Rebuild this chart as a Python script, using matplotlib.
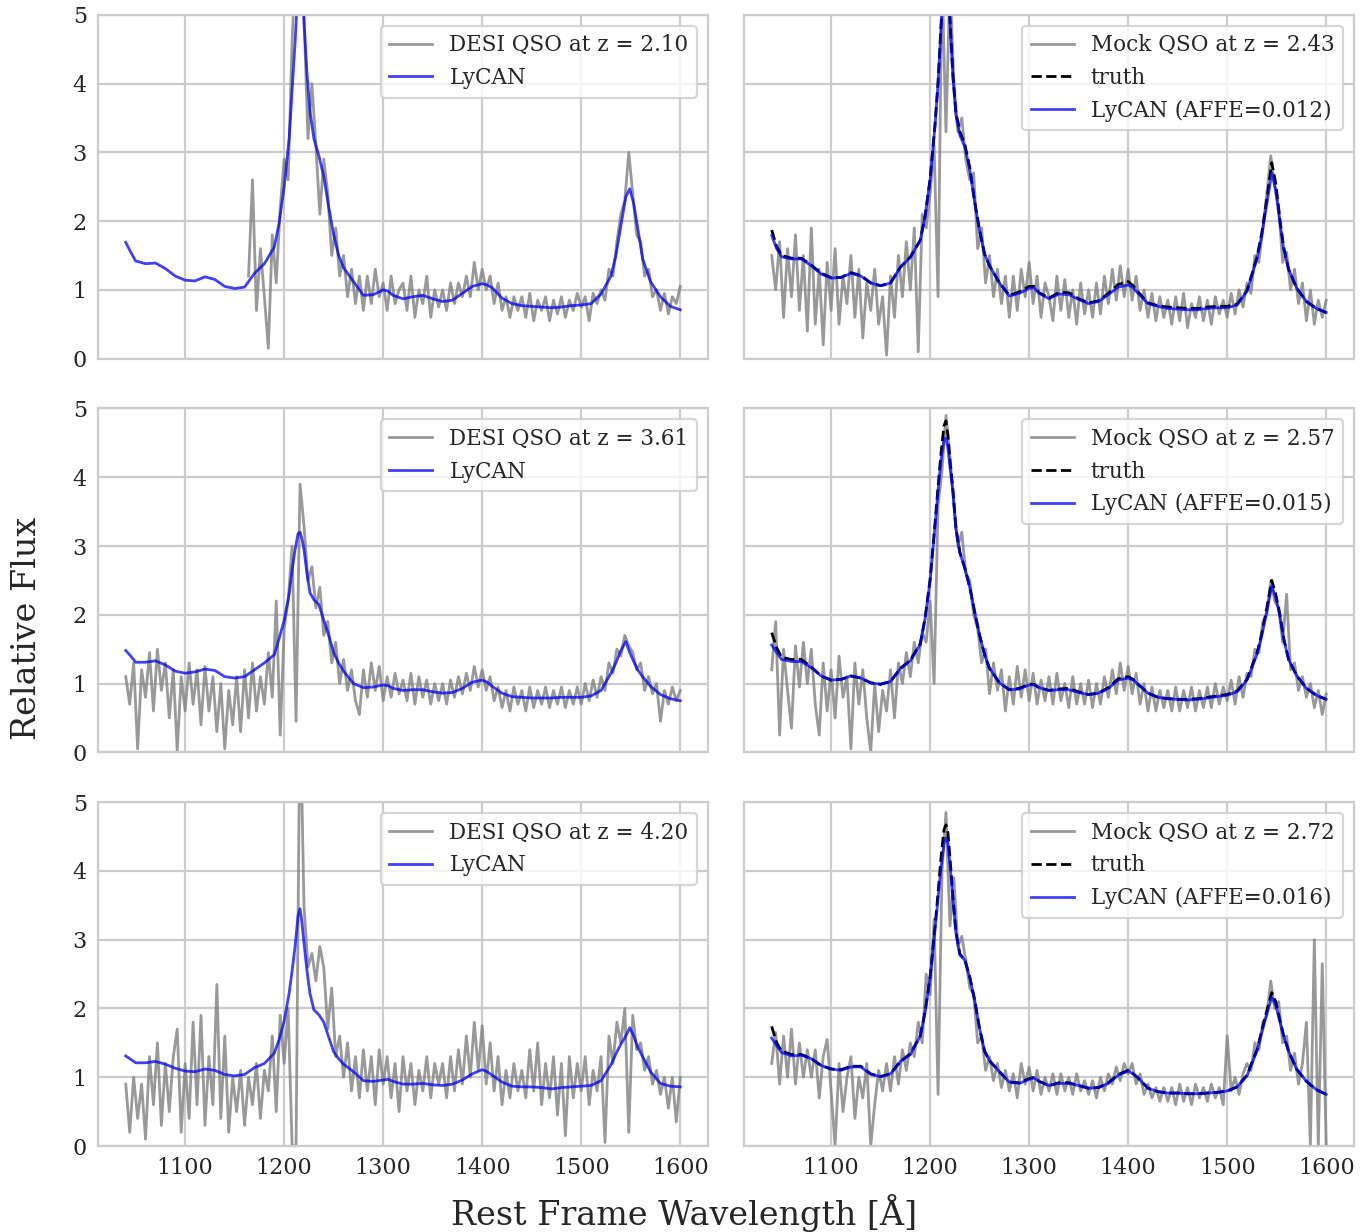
import numpy as np
import matplotlib.pyplot as plt

plt.rcParams['font.family'] = ['DejaVu Serif']
plt.rcParams['axes.edgecolor'] = '0.8'
plt.rcParams['axes.linewidth'] = 1.6
plt.rcParams['grid.color'] = '0.8'
plt.rcParams['grid.linewidth'] = 1.6

# wavelength grid of the smooth curves (rest frame, Angstrom)
SMOOTH_WAVE = [1040, 1045, 1050, 1060, 1070, 1080, 1090, 1100, 1110, 1120,
               1130, 1140, 1150, 1160, 1170, 1180, 1190, 1195, 1200, 1205,
               1208, 1211, 1214, 1216, 1218, 1220, 1223, 1226, 1230, 1235,
               1240, 1245, 1250, 1255, 1260, 1270, 1280, 1290, 1300, 1305,
               1310, 1320, 1330, 1340, 1350, 1360, 1370, 1380, 1390, 1400,
               1405, 1410, 1420, 1430, 1440, 1450, 1460, 1470, 1480, 1490,
               1500, 1510, 1520, 1530, 1535, 1540, 1545, 1549, 1553, 1557,
               1562, 1570, 1580, 1590, 1600]

# wavelength grids of the observed spectra
WAVE_DESI_210 = np.arange(1164, 1601, 4)
WAVE_FULL = np.arange(1040, 1601, 4)

# ---- DESI QSO z=2.10
flux_desi_210 = [
    1.2, 2.6, 0.7, 1.6, 0.9, 0.15, 1.8, 1.1, 2.2,
    2.9, 2.6, 4.6, 6.0, 5.9, 5.0, 3.2, 4.0, 3.1, 2.1,
    2.9, 2.4, 1.5, 1.9, 1.2, 1.5, 0.9, 1.3, 0.8, 1.2,
    0.7, 1.2, 0.8, 1.3, 0.9, 1.1, 0.7, 1.2, 0.8, 1.0,
    1.1, 0.7, 1.2, 0.6, 1.0, 0.8, 1.2, 0.6, 1.0, 0.75,
    1.0, 0.7, 1.1, 0.8, 1.1, 0.9, 1.2, 0.9, 1.4, 1.0,
    1.3, 1.0, 1.2, 0.8, 1.1, 0.7, 0.9, 0.6, 0.9, 0.7,
    0.9, 0.6, 0.95, 0.55, 0.85, 0.7, 0.9, 0.55, 0.85, 0.65,
    0.9, 0.6, 0.85, 0.7, 0.95, 0.75, 0.9, 0.55, 0.95, 0.8,
    1.0, 0.85, 1.3, 1.2, 1.7, 2.1, 2.3, 3.0, 2.4, 1.8,
    1.7, 1.2, 1.3, 0.9, 1.0, 0.7, 0.95, 0.65, 0.9, 0.8,
    1.05]
lycan_desi_210 = [
    1.69, 1.55, 1.42, 1.38, 1.39, 1.31, 1.20, 1.14, 1.13, 1.19,
    1.15, 1.05, 1.02, 1.04, 1.24, 1.38, 1.62, 1.98, 2.50, 3.20,
    3.90, 4.60, 5.40, 5.70, 5.50, 4.90, 4.15, 3.60, 3.20, 2.95,
    2.65, 2.20, 1.80, 1.50, 1.32, 1.12, 0.92, 0.93, 1.00, 0.98,
    0.92, 0.87, 0.90, 0.92, 0.87, 0.83, 0.85, 0.95, 1.05, 1.09,
    1.07, 1.03, 0.88, 0.80, 0.77, 0.76, 0.75, 0.74, 0.75, 0.77,
    0.78, 0.80, 0.94, 1.20, 1.50, 1.93, 2.35, 2.47, 2.25, 1.90,
    1.45, 1.12, 0.90, 0.76, 0.71]

# ---- Mock QSO z=2.43
flux_mock_243 = [
    1.5, 1.0, 1.7, 0.6, 1.6, 0.9, 1.8, 0.7, 1.5, 0.4,
    1.9, 0.5, 1.3, 0.2, 1.4, 0.7, 1.6, 0.5, 1.2, 0.8,
    1.5, 0.6, 1.3, 0.3, 1.1, 0.7, 1.3, 0.5, 0.9, 0.05,
    1.2, 0.6, 1.5, 0.9, 1.7, 1.0, 1.9, 0.1, 2.1, 1.9,
    2.4, 3.1, 0.9, 5.6, 3.3, 5.5, 4.0, 3.3, 3.5, 2.9,
    2.6, 2.7, 1.6, 1.9, 1.1, 1.5, 0.9, 1.3, 0.8, 1.2,
    0.6, 1.2, 0.7, 1.3, 0.9, 1.4, 0.8, 1.2, 0.6, 1.1,
    0.9, 0.55, 1.2, 0.7, 1.15, 0.6, 1.0, 0.5, 1.1, 0.65,
    1.0, 0.6, 1.1, 0.65, 1.2, 0.8, 1.3, 0.85, 1.35, 0.9,
    1.3, 0.85, 1.2, 0.7, 1.0, 0.6, 0.95, 0.55, 0.9, 0.6,
    0.85, 0.5, 0.9, 0.55, 0.95, 0.45, 0.8, 0.6, 0.9, 0.55,
    0.85, 0.5, 0.9, 0.65, 0.85, 0.6, 0.95, 0.65, 1.0, 0.75,
    1.1, 0.95, 1.5, 1.4, 1.9, 2.4, 2.95, 2.5, 2.2, 1.4,
    1.55, 1.0, 1.3, 0.8, 1.1, 0.55, 1.0, 0.5, 0.85, 0.6,
    0.85]
truth_mock_243 = [
    1.87, 1.63, 1.50, 1.46, 1.46, 1.36, 1.24, 1.18, 1.18, 1.25,
    1.21, 1.10, 1.06, 1.10, 1.33, 1.48, 1.72, 2.08, 2.62, 3.42,
    4.02, 4.85, 5.65, 5.95, 5.65, 4.95, 4.12, 3.58, 3.30, 3.12,
    2.78, 2.28, 1.86, 1.52, 1.35, 1.10, 0.92, 0.97, 1.05, 1.05,
    0.96, 0.88, 0.96, 0.96, 0.87, 0.81, 0.84, 0.95, 1.08, 1.12,
    1.06, 0.97, 0.81, 0.77, 0.75, 0.74, 0.73, 0.73, 0.75, 0.76,
    0.76, 0.79, 0.99, 1.47, 1.83, 2.32, 2.85, 2.55, 2.05, 1.62,
    1.30, 1.03, 0.83, 0.73, 0.67]
lycan_mock_243 = [
    1.79, 1.60, 1.48, 1.45, 1.45, 1.35, 1.23, 1.17, 1.18, 1.24,
    1.20, 1.10, 1.06, 1.10, 1.33, 1.47, 1.72, 2.08, 2.60, 3.40,
    4.00, 4.80, 5.60, 5.90, 5.60, 4.90, 4.10, 3.55, 3.25, 3.08,
    2.75, 2.27, 1.85, 1.52, 1.35, 1.10, 0.91, 0.95, 1.02, 1.03,
    0.95, 0.87, 0.94, 0.93, 0.86, 0.80, 0.83, 0.93, 1.04, 1.07,
    1.03, 0.95, 0.80, 0.76, 0.73, 0.72, 0.71, 0.71, 0.73, 0.74,
    0.74, 0.78, 0.98, 1.45, 1.80, 2.25, 2.70, 2.45, 2.00, 1.60,
    1.30, 1.03, 0.83, 0.73, 0.67]

# ---- DESI QSO z=3.61
flux_desi_361 = [
    1.1, 0.7, 1.3, 0.05, 1.2, 0.8, 1.45, 0.6, 1.5, 0.9,
    1.3, 0.5, 1.2, 0.02, 1.1, 0.6, 1.3, 0.7, 1.2, 0.4,
    1.25, 0.6, 1.1, 0.3, 1.0, 0.05, 0.9, 0.4, 1.1, 0.3,
    1.2, 0.5, 1.3, 0.6, 1.1, 0.7, 1.45, 0.8, 2.2, 0.25,
    1.8, 2.2, 3.0, 0.45, 3.9, 3.3, 2.5, 2.7, 2.1, 2.4,
    1.7, 1.9, 1.3, 1.6, 1.0, 1.35, 0.9, 1.2, 0.75, 0.55,
    1.2, 0.8, 1.3, 0.9, 1.25, 0.75, 1.1, 0.8, 1.15, 0.85,
    1.05, 0.75, 1.15, 0.7, 1.1, 0.8, 1.05, 0.7, 1.0, 0.75,
    1.0, 0.7, 1.05, 0.8, 1.1, 0.85, 1.15, 0.9, 1.25, 0.95,
    1.2, 0.9, 1.1, 0.75, 0.95, 0.65, 0.9, 0.6, 0.95, 0.7,
    0.9, 0.6, 0.95, 0.65, 0.9, 0.7, 0.95, 0.65, 0.9, 0.7,
    0.95, 0.65, 0.9, 0.7, 0.95, 0.7, 1.0, 0.75, 1.05, 0.8,
    1.1, 0.9, 1.3, 1.15, 1.5, 1.4, 1.7, 1.55, 1.45, 1.2,
    1.3, 0.9, 1.1, 0.85, 1.0, 0.45, 0.9, 0.7, 0.95, 0.75,
    0.9]
lycan_desi_361 = [
    1.48, 1.40, 1.31, 1.31, 1.33, 1.27, 1.18, 1.15, 1.17, 1.21,
    1.19, 1.10, 1.08, 1.10, 1.20, 1.30, 1.42, 1.66, 1.92, 2.30,
    2.65, 2.95, 3.18, 3.20, 3.10, 2.95, 2.60, 2.32, 2.22, 2.15,
    1.92, 1.70, 1.45, 1.30, 1.18, 1.00, 0.94, 0.95, 0.98, 0.97,
    0.93, 0.90, 0.91, 0.91, 0.88, 0.86, 0.87, 0.93, 1.02, 1.05,
    1.02, 0.96, 0.86, 0.81, 0.80, 0.79, 0.79, 0.79, 0.80, 0.80,
    0.80, 0.82, 0.90, 1.15, 1.30, 1.48, 1.61, 1.45, 1.32, 1.20,
    1.10, 0.96, 0.84, 0.78, 0.75]

# ---- Mock QSO z=2.57
flux_mock_257 = [
    1.2, 1.9, 0.25, 1.5, 0.9, 0.35, 1.55, 0.95, 1.6, 1.0,
    1.5, 0.7, 0.25, 1.3, 0.6, 1.2, 0.5, 1.4, 0.8, 1.1,
    0.05, 1.3, 0.7, 1.2, 0.5, 0.0, 1.0, 0.3, 0.9, 0.6,
    1.2, 0.5, 1.3, 1.0, 1.45, 1.1, 1.6, 1.3, 1.75, 1.6,
    2.2, 1.0, 3.6, 4.1, 4.9, 4.3, 3.6, 3.0, 3.2, 2.6,
    2.5, 2.0, 1.8, 1.3, 1.5, 0.85, 1.3, 0.9, 1.2, 0.6,
    1.1, 0.7, 1.25, 0.8, 1.2, 0.75, 1.15, 0.7, 1.05, 0.75,
    1.1, 0.7, 1.15, 0.75, 1.0, 0.65, 1.1, 0.7, 1.0, 0.7,
    1.05, 0.65, 1.0, 0.7, 1.1, 0.8, 1.2, 0.85, 1.3, 0.9,
    1.25, 0.85, 1.15, 0.7, 1.0, 0.6, 0.95, 0.6, 0.9, 0.65,
    0.9, 0.6, 0.95, 0.6, 0.9, 0.65, 0.95, 0.6, 0.9, 0.65,
    0.95, 0.65, 1.0, 0.7, 0.95, 0.75, 1.05, 0.7, 1.1, 0.8,
    1.15, 1.1, 1.5, 1.45, 1.9, 2.0, 2.5, 2.2, 2.1, 1.6,
    2.3, 1.2, 1.3, 0.9, 1.1, 0.8, 1.0, 0.65, 0.9, 0.55,
    0.85]
truth_mock_257 = [
    1.74, 1.52, 1.38, 1.35, 1.35, 1.24, 1.11, 1.05, 1.06, 1.11,
    1.08, 1.01, 0.99, 1.03, 1.22, 1.34, 1.58, 1.96, 2.52, 3.34,
    3.86, 4.35, 4.75, 4.82, 4.60, 4.25, 3.82, 3.26, 2.91, 2.68,
    2.40, 2.04, 1.70, 1.42, 1.22, 1.01, 0.91, 0.93, 0.99, 0.99,
    0.94, 0.90, 0.92, 0.93, 0.88, 0.84, 0.86, 0.94, 1.07, 1.10,
    1.06, 0.99, 0.86, 0.80, 0.78, 0.77, 0.77, 0.78, 0.80, 0.82,
    0.84, 0.89, 1.06, 1.44, 1.73, 2.10, 2.50, 2.30, 2.02, 1.66,
    1.35, 1.12, 0.93, 0.83, 0.77]
lycan_mock_257 = [
    1.56, 1.45, 1.35, 1.32, 1.32, 1.23, 1.11, 1.05, 1.06, 1.11,
    1.08, 1.01, 0.99, 1.03, 1.22, 1.33, 1.57, 1.95, 2.50, 3.30,
    3.80, 4.25, 4.55, 4.57, 4.42, 4.15, 3.79, 3.25, 2.90, 2.68,
    2.40, 2.04, 1.70, 1.42, 1.22, 1.01, 0.91, 0.92, 0.98, 0.98,
    0.94, 0.90, 0.91, 0.91, 0.87, 0.84, 0.86, 0.93, 1.05, 1.08,
    1.05, 0.99, 0.86, 0.80, 0.78, 0.77, 0.76, 0.77, 0.79, 0.81,
    0.83, 0.88, 1.05, 1.42, 1.70, 2.05, 2.42, 2.25, 2.00, 1.65,
    1.35, 1.12, 0.93, 0.83, 0.77]

# ---- DESI QSO z=4.20
flux_desi_420 = [
    0.9, 0.2, 1.0, 0.4, 0.9, 0.1, 1.3, 0.6, 1.5, 0.3,
    1.2, 0.5, 1.3, 1.7, 0.2, 1.2, 0.4, 1.8, 0.6, 1.9,
    0.3, 1.3, 0.6, 2.35, 0.4, 1.6, 0.2, 1.0, 0.5, 1.1,
    0.3, 1.0, 0.6, 1.2, 0.4, 1.1, 0.8, 1.6, 0.5, 1.9,
    1.2, 2.0, 0.0, 0.0, 6.5, 3.5, 2.6, 2.8, 2.4, 2.9,
    2.6, 1.7, 2.3, 1.3, 1.6, 1.0, 1.5, 0.8, 1.3, 0.7,
    1.4, 0.8, 1.3, 0.6, 1.4, 0.9, 1.3, 0.7, 1.2, 0.5,
    1.3, 0.8, 1.2, 0.6, 1.1, 0.8, 1.3, 0.7, 1.2, 0.9,
    1.2, 0.7, 1.3, 0.8, 1.4, 0.9, 1.6, 1.0, 1.8, 1.1,
    1.75, 0.9, 1.5, 0.8, 1.3, 0.6, 1.1, 0.7, 1.2, 0.8,
    1.1, 0.7, 1.4, 0.8, 1.5, 0.6, 1.2, 0.7, 1.3, 0.45,
    1.2, 0.15, 1.3, 0.7, 1.2, 0.8, 1.3, 0.6, 1.1, 0.8,
    1.3, 0.05, 1.6, 1.2, 1.8, 1.5, 2.0, 0.2, 1.9, 1.4,
    1.5, 1.1, 1.3, 0.9, 1.1, 0.75, 1.0, 0.55, 1.0, 0.35,
    1.0]
lycan_desi_420 = [
    1.31, 1.26, 1.21, 1.21, 1.23, 1.19, 1.13, 1.09, 1.08, 1.12,
    1.10, 1.04, 1.02, 1.04, 1.14, 1.20, 1.35, 1.55, 1.82, 2.22,
    2.55, 2.90, 3.35, 3.45, 3.25, 2.95, 2.55, 2.22, 1.98, 1.91,
    1.80, 1.58, 1.37, 1.27, 1.19, 1.08, 0.95, 0.94, 0.96, 0.97,
    0.94, 0.90, 0.90, 0.91, 0.89, 0.88, 0.90, 0.96, 1.05, 1.11,
    1.08, 1.03, 0.93, 0.87, 0.86, 0.86, 0.85, 0.83, 0.85, 0.86,
    0.87, 0.88, 0.95, 1.18, 1.34, 1.48, 1.60, 1.72, 1.60, 1.44,
    1.30, 1.08, 0.91, 0.87, 0.86]

# ---- Mock QSO z=2.72
flux_mock_272 = [
    1.2, 1.65, 0.9, 1.6, 1.0, 1.7, 0.9, 1.5, 1.0, 1.4,
    1.0, 1.4, 0.7, 1.3, 1.55, 0.8, 0.0, 1.2, 0.5, 1.0,
    1.3, 0.4, 1.0, 0.7, 1.2, 0.0, 0.6, 1.1, 0.8, 1.2,
    0.8, 1.3, 0.9, 1.4, 1.1, 1.5, 1.3, 1.8, 1.5, 2.5,
    2.2, 3.3, 0.75, 4.0, 4.85, 3.2, 3.9, 2.9, 3.05, 2.7,
    2.3, 2.2, 1.5, 1.6, 1.1, 1.3, 0.95, 1.2, 0.85, 1.1,
    0.8, 1.05, 0.7, 1.2, 0.9, 1.15, 0.8, 1.1, 0.75, 1.0,
    0.8, 1.05, 0.75, 1.05, 0.8, 1.0, 0.75, 1.05, 0.8, 0.95,
    0.75, 0.95, 0.7, 1.0, 0.8, 1.05, 0.9, 1.15, 0.95, 1.2,
    1.05, 1.2, 0.9, 1.05, 0.75, 0.9, 0.7, 0.85, 0.65, 0.85,
    0.65, 0.85, 0.6, 0.9, 0.65, 0.85, 0.6, 0.9, 0.7, 0.85,
    0.65, 0.9, 0.7, 0.85, 0.6, 1.6, 0.8, 1.0, 0.75, 1.05,
    1.2, 1.1, 1.5, 1.4, 1.8, 1.9, 2.4, 2.0, 2.1, 1.5,
    1.6, 1.1, 1.35, 0.9, 1.2, 1.8, 0.0, 3.0, 0.0, 2.65,
    0.0]
truth_mock_272 = [
    1.74, 1.50, 1.38, 1.33, 1.33, 1.27, 1.17, 1.12, 1.11, 1.16,
    1.16, 1.05, 1.01, 1.05, 1.23, 1.34, 1.60, 1.96, 2.47, 3.20,
    3.68, 4.20, 4.60, 4.67, 4.55, 4.20, 3.62, 3.12, 2.79, 2.71,
    2.46, 2.12, 1.70, 1.38, 1.24, 1.08, 0.93, 0.92, 0.98, 1.00,
    0.94, 0.88, 0.92, 0.92, 0.88, 0.84, 0.85, 0.92, 1.04, 1.10,
    1.05, 0.99, 0.84, 0.79, 0.77, 0.77, 0.76, 0.76, 0.77, 0.78,
    0.80, 0.86, 1.03, 1.40, 1.68, 1.97, 2.23, 2.10, 1.84, 1.61,
    1.38, 1.12, 0.94, 0.82, 0.75]
lycan_mock_272 = [
    1.57, 1.46, 1.36, 1.31, 1.32, 1.27, 1.17, 1.12, 1.10, 1.15,
    1.15, 1.04, 1.01, 1.05, 1.23, 1.33, 1.60, 1.95, 2.45, 3.15,
    3.60, 4.05, 4.40, 4.48, 4.40, 4.10, 3.58, 3.10, 2.78, 2.70,
    2.45, 2.12, 1.70, 1.38, 1.24, 1.08, 0.93, 0.91, 0.97, 0.99,
    0.94, 0.88, 0.91, 0.91, 0.88, 0.84, 0.85, 0.91, 1.03, 1.09,
    1.05, 0.99, 0.84, 0.79, 0.77, 0.77, 0.76, 0.76, 0.77, 0.78,
    0.80, 0.86, 1.02, 1.38, 1.65, 1.92, 2.16, 2.05, 1.82, 1.60,
    1.38, 1.12, 0.94, 0.82, 0.75]

# rows: (spectrum wave, spectrum flux, spectrum label, truth or None, lycan, lycan label)
left_panels = [
    (WAVE_DESI_210, flux_desi_210, 'DESI QSO at z = 2.10', lycan_desi_210),
    (WAVE_FULL, flux_desi_361, 'DESI QSO at z = 3.61', lycan_desi_361),
    (WAVE_FULL, flux_desi_420, 'DESI QSO at z = 4.20', lycan_desi_420),
]
right_panels = [
    (flux_mock_243, 'Mock QSO at z = 2.43', truth_mock_243, lycan_mock_243, 0.012),
    (flux_mock_257, 'Mock QSO at z = 2.57', truth_mock_257, lycan_mock_257, 0.015),
    (flux_mock_272, 'Mock QSO at z = 2.72', truth_mock_272, lycan_mock_272, 0.016),
]

fig, axes = plt.subplots(3, 2, figsize=(13.69, 12.32), dpi=100,
                         sharex=True, sharey=True)
fig.subplots_adjust(left=0.0716, right=0.989, top=0.988, bottom=0.0698,
                    wspace=0.059, hspace=0.145)

for row in range(3):
    wave, flux, lab, lycan = left_panels[row]
    ax = axes[row, 0]
    ax.plot(wave, flux, color='gray', alpha=0.8, lw=2, label=lab)
    ax.plot(SMOOTH_WAVE, lycan, color='blue', alpha=0.75, lw=2, label='LyCAN')

    flux, lab, truth, lycan, affe = right_panels[row]
    ax = axes[row, 1]
    ax.plot(WAVE_FULL, flux, color='gray', alpha=0.8, lw=2, label=lab)
    ax.plot(SMOOTH_WAVE, truth, color='black', ls='--', lw=2, label='truth')
    ax.plot(SMOOTH_WAVE, lycan, color='blue', alpha=0.75, lw=2,
            label='LyCAN (AFFE={:.3f})'.format(affe))

for ax in axes.flat:
    ax.set_facecolor('white')
    ax.grid(True)
    ax.set_axisbelow(True)
    ax.set_ylim(0, 5)
    ax.set_xlim(1012, 1628)
    ax.set_xticks([1100, 1200, 1300, 1400, 1500, 1600])
    ax.set_yticks([0, 1, 2, 3, 4, 5])
    ax.tick_params(length=0, labelsize=16, pad=8, colors='0.15')
    leg = ax.legend(loc='upper right', fontsize=15.5, frameon=True,
                    fancybox=True, framealpha=0.8, edgecolor='0.8')
    leg.get_frame().set_linewidth(1.6)
    for t in leg.get_texts():
        t.set_color('0.15')

fig.text(0.5, 0.0, 'Rest Frame Wavelength [Å]', ha='center', va='bottom',
         fontsize=24, color='0.15')
fig.text(0.02, 0.49, 'Relative Flux', ha='center', va='center',
         rotation=90, fontsize=24, color='0.15')

fig.savefig('out.png', dpi=100)
